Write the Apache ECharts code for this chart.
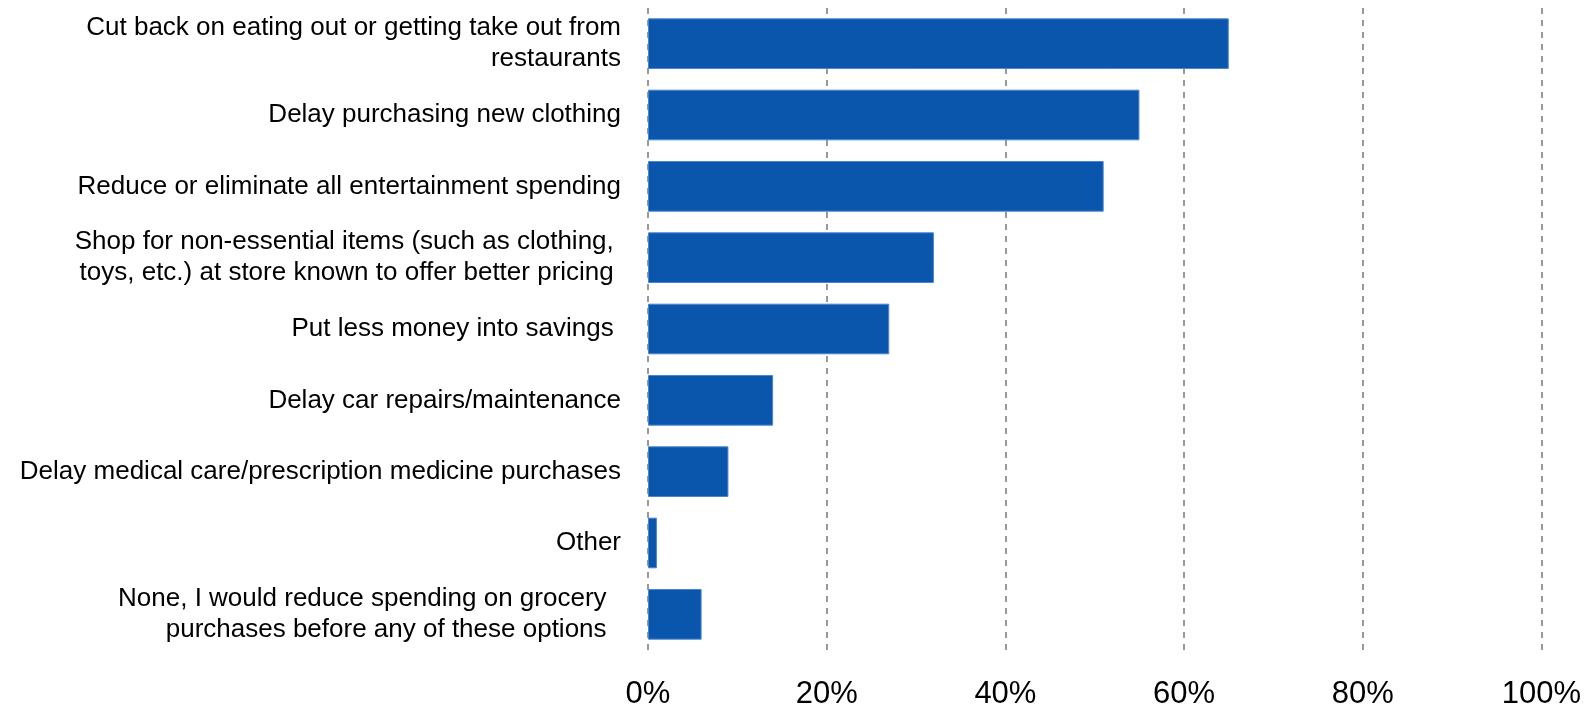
<!DOCTYPE html>
<html>
<head>
<meta charset="utf-8">
<script src="https://cdn.jsdelivr.net/npm/echarts@6/dist/echarts.min.js"></script>
<style>
html, body { margin: 0; padding: 0; background: #fff; }
#chart_spending { width: 1585px; height: 708px; }
</style>
</head>
<body>
<div id="chart_spending"></div>
<script>
// categories, top to bottom
var categories = [
    "Cut back on eating out or getting take out from\nrestaurants",
    "Delay purchasing new clothing",
    "Reduce or eliminate all entertainment spending",
    "Shop for non-essential items (such as clothing, \ntoys, etc.) at store known to offer better pricing ",
    "Put less money into savings ",
    "Delay car repairs/maintenance",
    "Delay medical care/prescription medicine purchases",
    "Other",
    "None, I would reduce spending on grocery  \npurchases before any of these options  "
];
var values = [65, 55, 51, 32, 27, 14, 9, 1, 6];
var tickMin = 0;
var tickMax = 100;
var tickStep = 20;

var myChart = echarts.init(document.getElementById("chart_spending"));
var option = {
    animation: false,
    grid: {
        left: 648,
        right: 43.5,
        top: 8,
        bottom: 58,
        containLabel: false,
        outerBoundsMode: "none"
    },
    xAxis: {
        type: "value",
        min: tickMin,
        max: tickMax,
        interval: tickStep,
        axisLine: { show: false },
        axisTick: { show: false },
        splitLine: {
            show: true,
            lineStyle: { color: "#999999", width: 2, type: [6, 6] }
        },
        axisLabel: {
            margin: 29,
            color: "#000",
            fontSize: 31,
            fontFamily: "Liberation Sans",
            formatter: "{value}%"
        }
    },
    yAxis: {
        type: "category",
        inverse: true,
        data: categories,
        axisLine: { show: false },
        axisTick: { show: false },
        axisLabel: {
            margin: 27,
            color: "#000",
            fontSize: 26,
            lineHeight: 31,
            align: "right",
            fontFamily: "Liberation Sans"
        }
    },
    series: [
        {
            type: "bar",
            data: values,
            barCategoryGap: "29%",
            itemStyle: { color: "#0A56AD", borderColor: "#4A86CF", borderWidth: 1 }
        }
    ]
};
myChart.setOption(option);
</script>
</body>
</html>
